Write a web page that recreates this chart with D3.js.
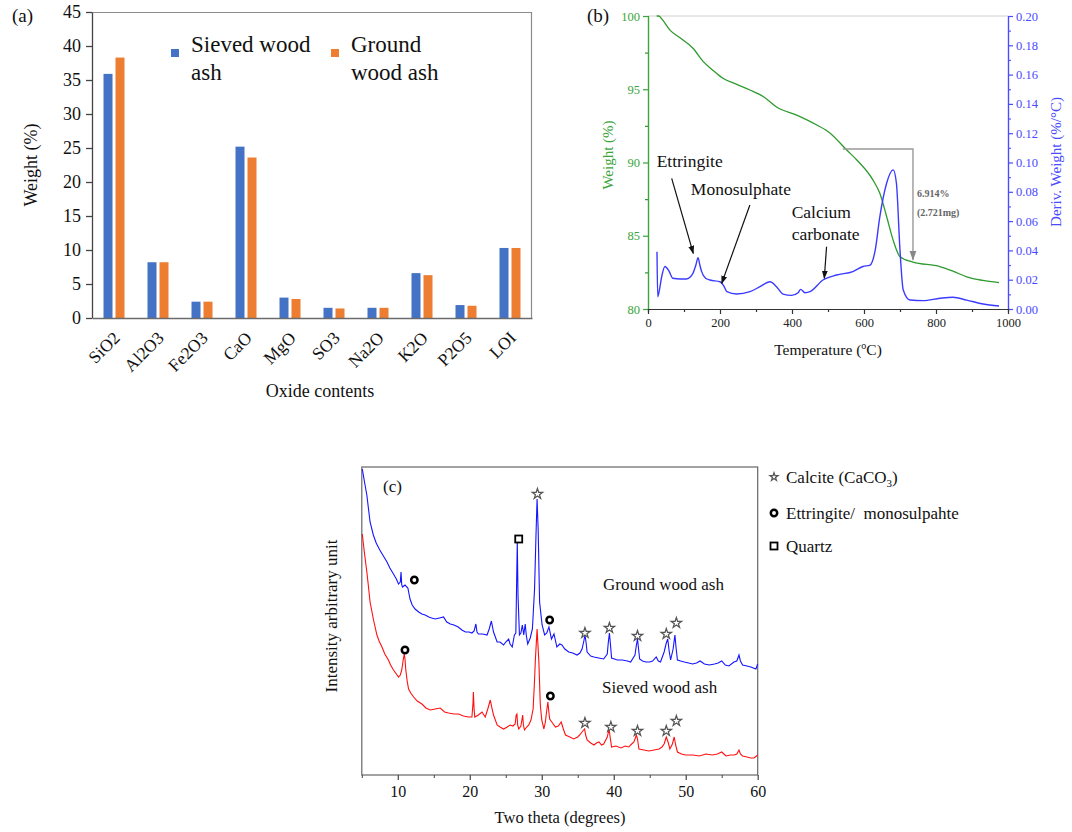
<!DOCTYPE html>
<html>
<head>
<meta charset="utf-8">
<script src="https://cdn.jsdelivr.net/npm/d3@7"></script>
<style>
  body { margin: 0; background: #fff; }
  text { font-family: "Liberation Serif", "Times New Roman", serif; }
  .sans { font-family: "Liberation Sans", Arial, sans-serif; }
</style>
</head>
<body>
<div id="main"></div>
<script>
// ---------- data: panel (a) oxide composition ----------
var oxides = ["SiO2", "Al2O3", "Fe2O3", "CaO", "MgO", "SO3", "Na2O", "K2O", "P2O5", "LOI"];
var sievedOx = [35.9, 8.2, 2.4, 25.2, 3.0, 1.5, 1.5, 6.6, 1.9, 10.3];
var groundOx = [38.3, 8.2, 2.4, 23.6, 2.8, 1.4, 1.5, 6.3, 1.8, 10.3];
var seriesNames = ["Sieved wood ash", "Ground wood ash"];
var weightTicks = [0, 5, 10, 15, 20, 25, 30, 35, 40, 45];

// ---------- data: panel (b) TGA / DTG ----------
var tgaTemp = [24, 30, 40, 61, 90, 125, 153, 180, 208, 245, 283, 320, 358, 413, 469, 506, 552, 580, 625, 644, 663, 681, 700, 736, 811, 850, 885, 930, 975];
var tgaWeight = [100, 100, 99.75, 99.04, 98.5, 97.8, 96.9, 96.3, 95.75, 95.35, 94.95, 94.5, 93.77, 93.24, 92.56, 92.0, 90.85, 90.17, 88.8, 87.9, 86.3, 84.7, 83.57, 83.2, 82.9, 82.55, 82.2, 81.95, 81.8];
var dtgTemp = [25, 27, 31, 38, 47, 58, 69, 90, 107, 118, 125, 133, 139, 144, 149, 160, 172, 200, 210, 219, 246, 283, 311, 339, 357, 375, 399, 417, 424, 436, 450, 486, 524, 569, 597, 617, 631, 644, 663, 681, 690, 700, 709, 728, 764, 811, 847, 885, 931, 975];
var dtgDeriv = [0.039, 0.0084, 0.012, 0.022, 0.029, 0.026, 0.021, 0.0205, 0.0205, 0.022, 0.0244, 0.030, 0.035, 0.030, 0.0255, 0.021, 0.0198, 0.0186, 0.016, 0.0118, 0.0102, 0.0118, 0.0152, 0.0186, 0.0152, 0.0102, 0.0093, 0.0111, 0.0134, 0.0111, 0.0118, 0.0198, 0.0232, 0.0255, 0.029, 0.030, 0.040, 0.063, 0.086, 0.095, 0.086, 0.040, 0.013, 0.0061, 0.0057, 0.0073, 0.008, 0.0061, 0.0034, 0.002];
var tempTicks = [0, 200, 400, 600, 800, 1000];
var wTicks = [80, 85, 90, 95, 100];
var dTicks = [0, 0.02, 0.04, 0.06, 0.08, 0.10, 0.12, 0.14, 0.16, 0.18, 0.20];

// ---------- data: panel (c) XRD (2theta, intensity a.u.) ----------
var xrdGround = [[5.07,306],[5.4,292],[5.7,280],[6.15,253],[6.6,240],[7.0,232],[7.5,225],[8.0,219],[8.5,213],[8.9,207],[9.4,201],[9.8,196],[10.1,191],[10.35,193],[10.45,203],[10.55,190],[10.65,188],[11.0,190],[11.4,187],[11.7,176],[12.0,170],[12.4,166],[12.9,163],[13.35,161],[13.8,160],[14.3,158],[14.7,157],[15.2,156],[15.8,157],[16.35,158],[16.8,153],[17.3,151],[17.8,150],[18.4,148],[18.9,145],[19.4,143],[19.9,143],[20.3,142],[20.6,144],[20.85,151],[21.0,143],[21.2,141],[21.8,141],[22.4,140],[22.7,146],[23.0,154],[23.3,143],[23.8,133],[24.2,133],[24.7,130],[25.0,133],[25.4,136],[25.6,131],[25.9,128],[26.2,140],[26.4,142],[26.6,233],[26.7,180],[26.9,140],[27.1,142],[27.3,150],[27.5,140],[27.7,151],[27.85,140],[28.05,131],[28.4,137],[28.7,146],[29.0,186],[29.2,240],[29.35,276],[29.5,246],[29.7,173],[30.05,150],[30.4,140],[30.7,142],[31.0,148],[31.35,136],[31.7,141],[32.1,128],[32.5,131],[32.8,130],[33.2,126],[33.75,123],[34.3,122],[34.9,120],[35.3,122],[35.6,126],[35.85,134],[36.0,140],[36.15,133],[36.3,123],[36.8,119],[37.25,118],[37.9,117],[38.6,116],[39.1,121],[39.25,133],[39.4,142],[39.55,130],[39.7,117],[40.1,116],[40.5,115],[41.2,115],[41.9,114],[42.35,113],[42.95,120],[43.15,130],[43.3,136],[43.45,126],[43.6,116],[44.0,114],[44.45,113],[45.0,113],[45.4,114],[45.9,118],[46.2,114],[46.5,113],[47.0,123],[47.3,132],[47.5,136],[47.7,124],[47.9,115],[48.25,126],[48.5,140],[48.65,128],[48.85,115],[49.3,114],[49.8,113],[50.4,112],[50.95,111],[51.5,112],[52.0,114],[52.6,111],[53.3,110],[54.0,111],[54.5,112],[55.0,114],[55.5,110],[56.0,109],[56.7,113],[57.1,114],[57.4,120],[57.6,114],[57.9,110],[58.5,109],[59.05,108],[59.75,106],[60,111]];
var xrdSieved = [[5.07,241],[5.3,226],[5.7,203],[5.9,190],[6.15,173],[6.6,156],[7.1,140],[7.4,134],[7.8,128],[8.2,121],[8.7,115],[9.0,110],[9.4,105],[9.8,101],[10.1,98],[10.35,100],[10.55,105],[10.75,115],[10.9,121],[11.0,116],[11.1,106],[11.3,94],[11.5,86],[11.8,82],[12.2,78],[12.7,74],[13.35,71],[13.9,67],[14.5,65],[15.2,66],[15.9,67],[16.5,63],[17.05,62],[17.8,61],[18.45,61],[19.1,59],[19.8,58],[20.3,58],[20.45,72],[20.5,83],[20.6,66],[20.7,58],[21.2,60],[21.7,63],[22.15,58],[22.5,66],[22.85,75],[23.1,66],[23.3,60],[23.8,50],[24.2,48],[24.7,46],[25.2,48],[25.6,50],[26.0,49],[26.3,51],[26.45,60],[26.55,61],[26.65,50],[26.8,46],[27.1,49],[27.35,60],[27.45,50],[27.6,45],[27.9,48],[28.2,50],[28.5,55],[28.8,66],[29.0,95],[29.1,113],[29.35,146],[29.6,113],[29.8,70],[30.0,55],[30.3,46],[30.5,53],[30.7,65],[30.85,73],[31.0,62],[31.1,56],[31.5,52],[31.9,48],[32.3,49],[32.7,53],[33.0,46],[33.3,40],[33.9,38],[34.45,36],[35.0,38],[35.4,41],[35.7,44],[35.95,46],[36.1,40],[36.3,35],[36.8,32],[37.25,30],[37.6,32],[37.95,33],[38.3,30],[38.6,31],[39.1,38],[39.35,46],[39.5,38],[39.7,28],[40.3,29],[41.0,27],[41.6,29],[42.1,28],[42.35,30],[42.8,33],[43.15,40],[43.3,36],[43.5,26],[44.2,25],[44.9,24],[45.6,25],[46.3,26],[46.7,28],[47.0,31],[47.3,38],[47.55,33],[47.8,26],[48.15,31],[48.4,38],[48.6,30],[48.85,23],[49.4,21],[50.0,20],[51.0,20],[51.9,19],[52.8,21],[53.7,20],[54.4,21],[55.0,23],[55.3,21],[55.6,19],[56.2,20],[56.75,20],[57.1,21],[57.4,25],[57.6,21],[57.9,19],[58.5,18],[59.05,17],[59.5,17],[60,20]];
// phase markers: [2theta, intensity, type]
var groundMarks = [[12.3,195,"o"],[26.8,236,"q"],[29.4,281,"s"],[31.1,155,"o"],[36.0,142,"s"],[39.4,147,"s"],[43.3,139,"s"],[47.3,141,"s"],[48.7,152,"s"]];
var sievedMarks = [[11.0,125,"o"],[31.2,79,"o"],[36.0,52,"s"],[39.6,48,"s"],[43.3,44,"s"],[47.3,44,"s"],[48.7,54,"s"]];
var twoThetaTicks = [10, 20, 30, 40, 50, 60];
var twoThetaMinor = [5, 15, 25, 35, 45, 55];

var blue = "#4472C4", orange = "#ED7D31";
var tgaGreen = "#2f9a2f", dtgBlue = "#3b3bff";

var svg = d3.select("#main").append("svg")
    .attr("width", 1072).attr("height", 832)
    .style("background", "#fff");

var defs = svg.append("defs");
function arrowMarker(id, color) {
  defs.append("marker").attr("id", id)
    .attr("viewBox", "0 0 10 10").attr("refX", 9).attr("refY", 5)
    .attr("markerWidth", 7).attr("markerHeight", 7).attr("orient", "auto")
    .append("path").attr("d", "M0,1.5 L10,5 L0,8.5 Z").attr("fill", color);
}
arrowMarker("arrBlack", "#111");
arrowMarker("arrGray", "#888");

// ================= panel (a) =================
var ax0 = d3.scaleBand().domain(oxides).range([92, 532]);
var ax1 = d3.scaleBand().domain(seriesNames).range([0, ax0.bandwidth()])
    .paddingInner(0.25).paddingOuter(0.958);
var ay = d3.scaleLinear().domain([0, 45]).range([318, 12]);

var ga = svg.append("g");
// frame top/right
ga.append("path").attr("d", "M92,12.5H531.5V318").attr("fill", "none").attr("stroke", "#8c8c8c").attr("stroke-width", 1.2);

var barData = [];
oxides.forEach(function(o, i) {
  barData.push({cat: o, s: seriesNames[0], v: sievedOx[i], c: blue});
  barData.push({cat: o, s: seriesNames[1], v: groundOx[i], c: orange});
});
ga.selectAll("rect.bar").data(barData).enter().append("rect")
  .attr("class", "bar")
  .attr("x", function(d) { return ax0(d.cat) + ax1(d.s); })
  .attr("width", ax1.bandwidth())
  .attr("y", function(d) { return ay(d.v); })
  .attr("height", function(d) { return ay(0) - ay(d.v); })
  .attr("fill", function(d) { return d.c; });

var yAxA = ga.append("g").attr("transform", "translate(92,0)")
  .call(d3.axisLeft(ay).tickValues(weightTicks).tickSize(6).tickSizeOuter(0).tickPadding(5));
yAxA.select(".domain").attr("stroke", "#444").attr("stroke-width", 1.3);
yAxA.selectAll(".tick line").attr("stroke", "#444").attr("stroke-width", 1.3);
yAxA.selectAll("text").attr("font-size", 18).attr("font-family", "Liberation Serif").attr("fill", "#111");

var xAxA = ga.append("g").attr("transform", "translate(0,318)")
  .call(d3.axisBottom(ax0).tickSize(0).tickSizeOuter(0).tickPadding(0));
xAxA.select(".domain").attr("stroke", "#6b6b6b").attr("stroke-width", 1.6);
xAxA.selectAll(".tick text")
  .attr("font-size", 17.5).attr("font-family", "Liberation Serif").attr("fill", "#111")
  .attr("text-anchor", "end").attr("dy", 0).attr("y", 0)
  .attr("transform", "translate(7,21) rotate(-45)");

ga.append("text").attr("transform", "translate(37,165) rotate(-90)")
  .attr("text-anchor", "middle").attr("font-size", 18).attr("fill", "#111").text("Weight (%)");
ga.append("text").attr("x", 320).attr("y", 397).attr("text-anchor", "middle")
  .attr("font-size", 18).attr("fill", "#111").text("Oxide contents");
ga.append("text").attr("x", 12).attr("y", 22).attr("font-size", 19).attr("fill", "#111").text("(a)");

// legend (a)
var legA = [
  {c: blue, x: 171, lines: ["Sieved wood", "ash"]},
  {c: orange, x: 331, lines: ["Ground", "wood ash"]}
];
legA.forEach(function(l) {
  ga.append("rect").attr("x", l.x).attr("y", 49).attr("width", 8).attr("height", 8).attr("fill", l.c);
  l.lines.forEach(function(t, i) {
    ga.append("text").attr("x", l.x + 20).attr("y", 52 + i * 28)
      .attr("font-size", 23).attr("fill", "#111").text(t);
  });
});

// ================= panel (b) =================
var bx = d3.scaleLinear().domain([0, 1000]).range([648, 1008]);
var bw = d3.scaleLinear().domain([80, 100]).range([309, 16]);
var bd = d3.scaleLinear().domain([0, 0.2]).range([309, 16]);
var gb = svg.append("g").attr("class", "sans");

gb.append("line").attr("x1", 648).attr("x2", 1008).attr("y1", 16).attr("y2", 16)
  .attr("stroke", "#d0d0d0").attr("stroke-width", 1);

function styleAxis(sel, color, fs) {
  sel.select(".domain").attr("stroke", color).attr("stroke-width", 1.2);
  sel.selectAll(".tick line").attr("stroke", color).attr("stroke-width", 1.2);
  sel.selectAll(".tick text").attr("fill", color).attr("font-size", fs)
    .attr("font-family", "Liberation Sans");
}
// minor ticks first
gb.append("g").attr("transform", "translate(648,0)")
  .call(d3.axisLeft(bw).tickValues([82.5, 87.5, 92.5, 97.5]).tickSize(3).tickFormat(""))
  .call(function(s) { styleAxis(s, tgaGreen, 0); });
var lAx = gb.append("g").attr("transform", "translate(648,0)")
  .call(d3.axisLeft(bw).tickValues(wTicks).tickSize(5).tickSizeOuter(0).tickFormat(d3.format("d")));
styleAxis(lAx, "#3aa53a", 12.5);

gb.append("g").attr("transform", "translate(1008,0)")
  .call(d3.axisRight(bd).tickValues([0.01,0.03,0.05,0.07,0.09,0.11,0.13,0.15,0.17,0.19]).tickSize(3).tickFormat(""))
  .call(function(s) { styleAxis(s, "#5a5aff", 0); });
var rAx = gb.append("g").attr("transform", "translate(1008,0)")
  .call(d3.axisRight(bd).tickValues(dTicks).tickSize(5).tickSizeOuter(0).tickFormat(d3.format(".2f")));
styleAxis(rAx, "#4a4aff", 12.5);

gb.append("g").attr("transform", "translate(0,309)")
  .call(d3.axisBottom(bx).tickValues([100, 300, 500, 700, 900]).tickSize(3).tickFormat(""))
  .call(function(s) { styleAxis(s, "#333", 0); });
var bAx = gb.append("g").attr("transform", "translate(0,309)")
  .call(d3.axisBottom(bx).tickValues(tempTicks).tickSize(5).tickSizeOuter(0).tickPadding(4).tickFormat(d3.format("d")));
styleAxis(bAx, "#333", 12.5);
bAx.selectAll(".tick text").attr("fill", "#222");

var tgaLine = d3.line().x(function(d) { return bx(d[0]); }).y(function(d) { return bw(d[1]); });
var dtgLine = d3.line().x(function(d) { return bx(d[0]); }).y(function(d) { return bd(d[1]); }).curve(d3.curveMonotoneX);
gb.append("path").datum(d3.zip(tgaTemp, tgaWeight)).attr("d", tgaLine.curve(d3.curveMonotoneX))
  .attr("fill", "none").attr("stroke", tgaGreen).attr("stroke-width", 1.3);
gb.append("path").datum(d3.zip(dtgTemp, dtgDeriv)).attr("d", dtgLine)
  .attr("fill", "none").attr("stroke", dtgBlue).attr("stroke-width", 1.4);

// mass loss bracket
gb.append("path")
  .attr("d", "M" + bx(541) + "," + bw(90.92) + "H" + bx(736) + "V" + (bw(83.3) - 1))
  .attr("fill", "none").attr("stroke", "#999").attr("stroke-width", 1.4)
  .attr("marker-end", "url(#arrGray)");
gb.append("text").attr("x", bx(747)).attr("y", bw(87.65)).attr("font-size", 10).attr("font-weight", "bold")
  .attr("font-family", "Liberation Serif").attr("fill", "#666").text("6.914%");
gb.append("text").attr("x", bx(747)).attr("y", bw(86.35)).attr("font-size", 10).attr("font-weight", "bold")
  .attr("font-family", "Liberation Serif").attr("fill", "#666").text("(2.721mg)");

// event annotations
var notes = [
  {lines: ["Ettringite"], tx: 24, tw: 89.7, from: [65.8, 88.92], to: [125.8, 83.8]},
  {lines: ["Monosulphate"], tx: 119, tw: 87.8, from: [283, 87.1], to: [204.7, 81.75]},
  {lines: ["Calcium", "carbonate"], tx: 399, tw: 86.2, from: [496, 84.25], to: [489.7, 82.1]}
];
notes.forEach(function(n) {
  n.lines.forEach(function(t, i) {
    gb.append("text").attr("x", bx(n.tx)).attr("y", bw(n.tw) + i * 22)
      .attr("font-family", "Liberation Serif").attr("font-size", 17.5).attr("fill", "#111").text(t);
  });
  gb.append("line").attr("x1", bx(n.from[0])).attr("y1", bw(n.from[1]))
    .attr("x2", bx(n.to[0])).attr("y2", bw(n.to[1]))
    .attr("stroke", "#111").attr("stroke-width", 1.2).attr("marker-end", "url(#arrBlack)");
});

gb.append("text").attr("transform", "translate(613,155) rotate(-90)").attr("text-anchor", "middle")
  .attr("font-size", 15).attr("fill", "#3aa53a").text("Weight (%)");
gb.append("text").attr("transform", "translate(1061,162) rotate(-90)").attr("text-anchor", "middle")
  .attr("font-size", 15).attr("fill", "#4a4aff").text("Deriv. Weight (%/°C)");
var tl = gb.append("text").attr("x", 828).attr("y", 355).attr("text-anchor", "middle")
  .attr("font-family", "Liberation Serif").attr("font-size", 15.5).attr("fill", "#111");
tl.append("tspan").text("Temperature (");
tl.append("tspan").attr("font-size", 10).attr("dy", -6).text("o");
tl.append("tspan").attr("dy", 6).text("C)");
gb.append("text").attr("x", 587).attr("y", 22).attr("font-family", "Liberation Serif")
  .attr("font-size", 19).attr("fill", "#111").text("(b)");

// ================= panel (c) =================
var cx = d3.scaleLinear().domain([5, 60]).range([361.8, 757.7]);
var cy = d3.scaleLinear().domain([0, 308]).range([775, 467]);
var gc = svg.append("g");

gc.append("rect").attr("x", 361.8).attr("y", 467).attr("width", 757.7 - 361.8).attr("height", 775 - 467)
  .attr("fill", "none").attr("stroke", "#666").attr("stroke-width", 1.2);

gc.append("g").attr("transform", "translate(0,775)")
  .call(d3.axisBottom(cx).tickValues(twoThetaMinor).tickSize(3).tickFormat(""))
  .call(function(s) { s.select(".domain").remove(); s.selectAll("line").attr("stroke", "#444"); });
var cAx = gc.append("g").attr("transform", "translate(0,775)")
  .call(d3.axisBottom(cx).tickValues(twoThetaTicks).tickSize(5).tickSizeOuter(0).tickPadding(6));
cAx.select(".domain").remove();
cAx.selectAll("line").attr("stroke", "#444").attr("stroke-width", 1.2);
cAx.selectAll("text").attr("font-size", 16).attr("font-family", "Liberation Serif").attr("fill", "#111");

var xrdLine = d3.line().x(function(d) { return cx(d[0]); }).y(function(d) { return cy(d[1]); });
gc.append("path").datum(xrdGround).attr("d", xrdLine)
  .attr("fill", "none").attr("stroke", "#1414ff").attr("stroke-width", 1.1);
gc.append("path").datum(xrdSieved).attr("d", xrdLine)
  .attr("fill", "none").attr("stroke", "#ff1010").attr("stroke-width", 1.1);

function drawMark(g, type, x, y, small) {
  if (type === "s") {
    g.append("path").attr("d", d3.symbol().type(d3.symbolStar).size(small ? 20 : 34)())
      .attr("transform", "translate(" + x + "," + y + ")")
      .attr("fill", "#fff").attr("stroke", "#555").attr("stroke-width", 1.2);
  } else if (type === "o") {
    g.append("circle").attr("cx", x).attr("cy", y).attr("r", 3.2)
      .attr("fill", "#fff").attr("stroke", "#000").attr("stroke-width", 2.5);
  } else {
    g.append("rect").attr("x", x - 3.5).attr("y", y - 3.5).attr("width", 7).attr("height", 7)
      .attr("fill", "#fff").attr("stroke", "#000").attr("stroke-width", 1.8);
  }
}
groundMarks.concat(sievedMarks).forEach(function(m) { drawMark(gc, m[2], cx(m[0]), cy(m[1]), false); });

gc.append("text").attr("x", 603).attr("y", 590).attr("font-size", 17).attr("fill", "#111").text("Ground wood ash");
gc.append("text").attr("x", 602).attr("y", 693).attr("font-size", 17).attr("fill", "#111").text("Sieved wood ash");
gc.append("text").attr("x", 383).attr("y", 492).attr("font-size", 17).attr("fill", "#111").text("(c)");
gc.append("text").attr("transform", "translate(337,616) rotate(-90)").attr("text-anchor", "middle")
  .attr("font-size", 17).attr("fill", "#111").text("Intensity arbitrary unit");
gc.append("text").attr("x", 560).attr("y", 823).attr("text-anchor", "middle")
  .attr("font-size", 16.5).attr("fill", "#111").text("Two theta (degrees)");

// legend (c)
var legC = [
  {t: "s", y: 477, label: "Calcite (CaCO", sub: "3", tail: ")"},
  {t: "o", y: 513, label: "Ettringite/  monosulpahte"},
  {t: "q", y: 546, label: "Quartz"}
];
legC.forEach(function(l) {
  drawMark(gc, l.t, 774, l.y, true);
  var tx = gc.append("text").attr("x", 786).attr("y", l.y + 5.5).attr("font-size", 17)
    .attr("fill", "#111").style("white-space", "pre");
  tx.append("tspan").text(l.label);
  if (l.sub) {
    tx.append("tspan").attr("font-size", 11).attr("dy", 4).text(l.sub);
    tx.append("tspan").attr("dy", -4).text(l.tail);
  }
});
</script>
</body>
</html>
